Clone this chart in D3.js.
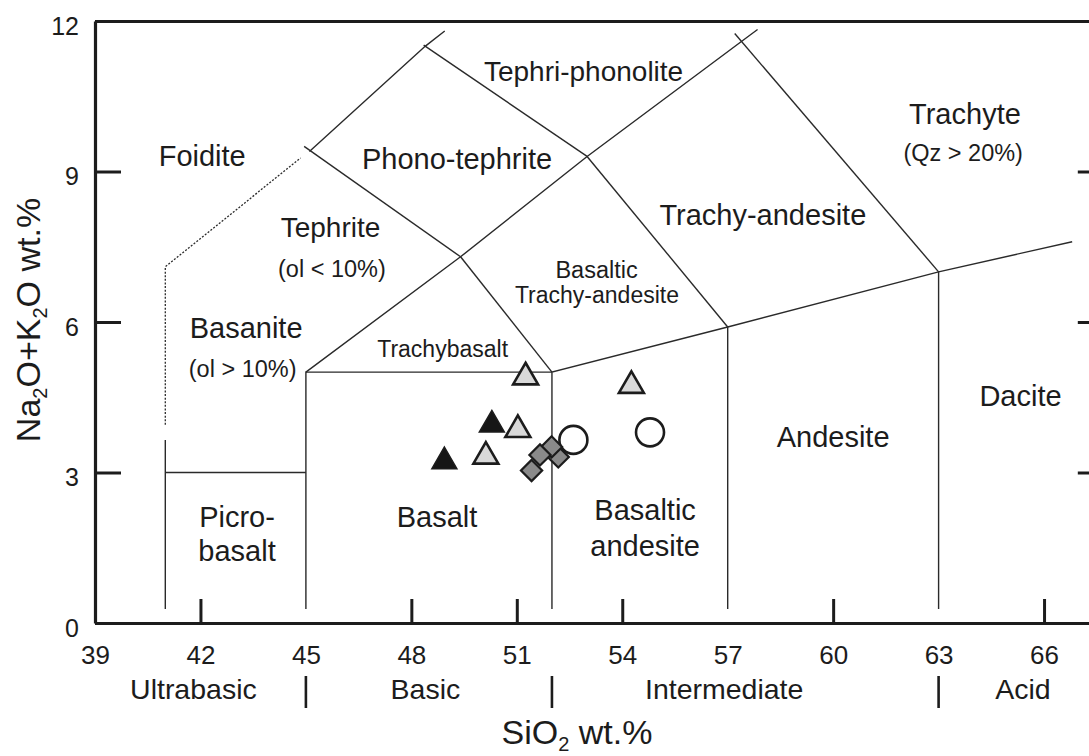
<!DOCTYPE html>
<html>
<head>
<meta charset="utf-8">
<script src="https://cdn.jsdelivr.net/npm/d3@7"></script>
<style>
  html, body { margin: 0; padding: 0; background: #fff; }
  svg { display: block; font-family: "Liberation Sans", Arial, sans-serif; }
</style>
</head>
<body>
<svg id="chart" width="1089" height="756"></svg>
<script>
// ---- Axis ticks ----
const xTickLabels = [39, 42, 45, 48, 51, 54, 57, 60, 63, 66];
const xTickMarks = [42, 48, 51, 54, 60, 66];
const yTickLabels = [0, 3, 6, 9, 12];
const yTickMarksRight = [3, 6, 9];

// ---- Silica classes along the bottom ----
const silicaClasses = [
  { name: "Ultrabasic", at: 41.8 },
  { name: "Basic", at: 48.4 },
  { name: "Intermediate", at: 56.9 },
  { name: "Acid", at: 65.4 }
];
const silicaDividers = [45, 52, 63];

// ---- TAS field boundaries (SiO2, Na2O+K2O) ----
const solidBoundaries = [
  [[41, 0.28], [41, 3.65]],
  [[41, 3], [45, 3]],
  [[45, 0.28], [45, 5], [52, 5]],
  [[52, 0.28], [52, 5], [57, 5.9], [63, 7], [66.8, 7.6]],
  [[57, 0.28], [57, 5.9]],
  [[63, 0.28], [63, 7]],
  [[45, 5], [49.4, 7.3], [53, 9.3], [57.6, 11.7], [57.85, 11.83]],
  [[49.4, 7.3], [52, 5]],
  [[53, 9.3], [57, 5.9]],
  [[44.95, 9.5], [49.4, 7.3]],
  [[45.1, 9.4], [48.4, 11.5], [48.95, 11.8]],
  [[48.35, 11.52], [53, 9.3]],
  [[57.2, 11.75], [63, 7]]
];
const dottedBoundaries = [
  [[41, 3.95], [41, 7.1], [44.85, 9.27]]
];

// ---- Field names ----
const fieldLabels = [
  { text: "Foidite", x: 42.05, y: 9.1, size: 29 },
  { text: "Tephri-phonolite", x: 52.9, y: 10.8, size: 28 },
  { text: "Phono-tephrite", x: 49.3, y: 9.04, size: 29 },
  { text: "Trachyte", x: 63.75, y: 9.95, size: 29 },
  { text: "(Qz > 20%)", x: 63.7, y: 9.2, size: 23.5 },
  { text: "Tephrite", x: 45.7, y: 7.69, size: 28 },
  { text: "(ol < 10%)", x: 45.74, y: 6.9, size: 23.5 },
  { text: "Trachy-andesite", x: 58.0, y: 7.93, size: 29 },
  { text: "Basaltic", x: 53.27, y: 6.88, size: 23.5 },
  { text: "Trachy-andesite", x: 53.28, y: 6.38, size: 23 },
  { text: "Basanite", x: 43.3, y: 5.68, size: 29 },
  { text: "(ol > 10%)", x: 43.2, y: 4.9, size: 23.5 },
  { text: "Trachybasalt", x: 48.89, y: 5.3, size: 23 },
  { text: "Dacite", x: 65.33, y: 4.33, size: 29 },
  { text: "Andesite", x: 60.0, y: 3.5, size: 29 },
  { text: "Basalt", x: 48.73, y: 1.92, size: 29 },
  { text: "Picro-", x: 43.04, y: 1.92, size: 29 },
  { text: "basalt", x: 43.04, y: 1.24, size: 29 },
  { text: "Basaltic", x: 54.65, y: 2.05, size: 29 },
  { text: "andesite", x: 54.65, y: 1.33, size: 29 }
];

// ---- Samples ----
const blackTriangles = [[50.29, 3.95], [48.94, 3.22]];
const greyTriangles = [[51.25, 4.9], [54.26, 4.73], [51.03, 3.85], [50.12, 3.32]];
const openCircles = [[52.61, 3.65], [54.79, 3.8]];
const greyDiamonds = [[52.18, 3.31], [51.99, 3.51], [51.66, 3.35], [51.42, 3.04]];

const svg = d3.select("#chart");
const ink = "#1c1c1c";

const x = d3.scaleLinear().domain([39, 67.7]).range([95, 1103.8]);
const y = d3.scaleLinear().domain([0, 12]).range([623, 21]);

// field boundary lines
const line = d3.line().x(d => x(d[0])).y(d => y(d[1]));
const g = svg.append("g");
g.selectAll("path.solid").data(solidBoundaries).join("path")
  .attr("class", "solid")
  .attr("d", line)
  .attr("fill", "none")
  .attr("stroke", "#2a2a2a")
  .attr("stroke-width", 1.4);
g.selectAll("path.dotted").data(dottedBoundaries).join("path")
  .attr("class", "dotted")
  .attr("d", line)
  .attr("fill", "none")
  .attr("stroke", "#2a2a2a")
  .attr("stroke-width", 1.3)
  .attr("stroke-dasharray", "2,1.6");

// axes / frame
function styleAxis(sel, w) {
  sel.select(".domain").attr("stroke", ink).attr("stroke-width", w);
  sel.selectAll(".tick line").attr("stroke", ink).attr("stroke-width", 3);
  sel.selectAll(".tick text").attr("fill", ink).attr("font-family", "Liberation Sans, Arial, sans-serif");
}

const xAxisLabels = svg.append("g")
  .attr("transform", `translate(0,${y(0)})`)
  .call(d3.axisBottom(x).tickValues(xTickLabels).tickSize(0).tickPadding(22.5).tickFormat(d3.format("d")));
xAxisLabels.selectAll(".tick text").attr("font-size", 26);
styleAxis(xAxisLabels, 3.2);

const xAxisMarks = svg.append("g")
  .attr("transform", `translate(0,${y(0)})`)
  .call(d3.axisBottom(x).tickValues(xTickMarks).tickSizeInner(-24).tickSizeOuter(0).tickFormat(""));
xAxisMarks.select(".domain").remove();
styleAxis(xAxisMarks, 3);

const yAxis = svg.append("g")
  .attr("transform", `translate(${x(39)},0)`)
  .call(d3.axisLeft(y).tickValues(yTickLabels).tickSizeInner(-26).tickSizeOuter(0).tickPadding(16).tickFormat(d3.format("d")));
yAxis.selectAll(".tick text").attr("font-size", 25).attr("dy", "0.52em");
styleAxis(yAxis, 3.2);

const yAxisRight = svg.append("g")
  .attr("transform", `translate(${x(67.7)},0)`)
  .call(d3.axisRight(y).tickValues(yTickMarksRight).tickSizeInner(-26).tickSizeOuter(0).tickFormat(""));
styleAxis(yAxisRight, 3.2);

const topFrame = svg.append("g")
  .attr("transform", `translate(0,${y(12)})`)
  .call(d3.axisTop(x).tickValues([]).tickSizeOuter(0));
styleAxis(topFrame, 3.2);

// field names
svg.append("g").selectAll("text").data(fieldLabels).join("text")
  .attr("x", d => x(d.x))
  .attr("y", d => y(d.y))
  .attr("text-anchor", "middle")
  .attr("font-size", d => d.size)
  .attr("fill", ink)
  .text(d => d.text);

// silica classes
svg.append("g").selectAll("text").data(silicaClasses).join("text")
  .attr("x", d => x(d.at))
  .attr("y", 699)
  .attr("text-anchor", "middle")
  .attr("font-size", 28.5)
  .attr("fill", ink)
  .text(d => d.name);
svg.append("g").selectAll("line").data(silicaDividers).join("line")
  .attr("x1", d => x(d)).attr("x2", d => x(d))
  .attr("y1", 676).attr("y2", 708)
  .attr("stroke", ink).attr("stroke-width", 2.6);

// axis titles
const xTitle = svg.append("text")
  .attr("x", 577).attr("y", 743.5)
  .attr("text-anchor", "middle")
  .attr("font-size", 34)
  .attr("fill", ink);
xTitle.append("tspan").text("SiO");
xTitle.append("tspan").attr("font-size", 20).attr("dy", 7).text("2");
xTitle.append("tspan").attr("dy", -7).text(" wt.%");

const yTitle = svg.append("text")
  .attr("transform", "translate(40,320) rotate(-90)")
  .attr("text-anchor", "middle")
  .attr("font-size", 34)
  .attr("fill", ink);
yTitle.append("tspan").text("Na");
yTitle.append("tspan").attr("font-size", 20).attr("dy", 7).text("2");
yTitle.append("tspan").attr("dy", -7).text("O+K");
yTitle.append("tspan").attr("font-size", 20).attr("dy", 7).text("2");
yTitle.append("tspan").attr("dy", -7).text("O wt.%");

// samples
const pts = svg.append("g");
pts.selectAll("circle").data(openCircles).join("circle")
  .attr("cx", d => x(d[0])).attr("cy", d => y(d[1]))
  .attr("r", 14)
  .attr("fill", "#fff")
  .attr("stroke", ink).attr("stroke-width", 2.6);

const tri = d3.symbol().type(d3.symbolTriangle).size(270);
pts.selectAll("path.grey-tri").data(greyTriangles).join("path")
  .attr("class", "grey-tri")
  .attr("d", tri)
  .attr("transform", d => `translate(${x(d[0])},${y(d[1])})`)
  .attr("fill", "#d9d9d9")
  .attr("stroke", ink).attr("stroke-width", 2.6).attr("stroke-linejoin", "miter");
pts.selectAll("path.black-tri").data(blackTriangles).join("path")
  .attr("class", "black-tri")
  .attr("d", tri)
  .attr("transform", d => `translate(${x(d[0])},${y(d[1])})`)
  .attr("fill", "#161616")
  .attr("stroke", ink).attr("stroke-width", 1.5);

const sq = d3.symbol().type(d3.symbolSquare).size(225);
pts.selectAll("path.diamond").data(greyDiamonds).join("path")
  .attr("class", "diamond")
  .attr("d", sq)
  .attr("transform", d => `translate(${x(d[0])},${y(d[1])}) rotate(45)`)
  .attr("fill", "#8a8a8a")
  .attr("stroke", ink).attr("stroke-width", 2.2);
</script>
</body>
</html>
